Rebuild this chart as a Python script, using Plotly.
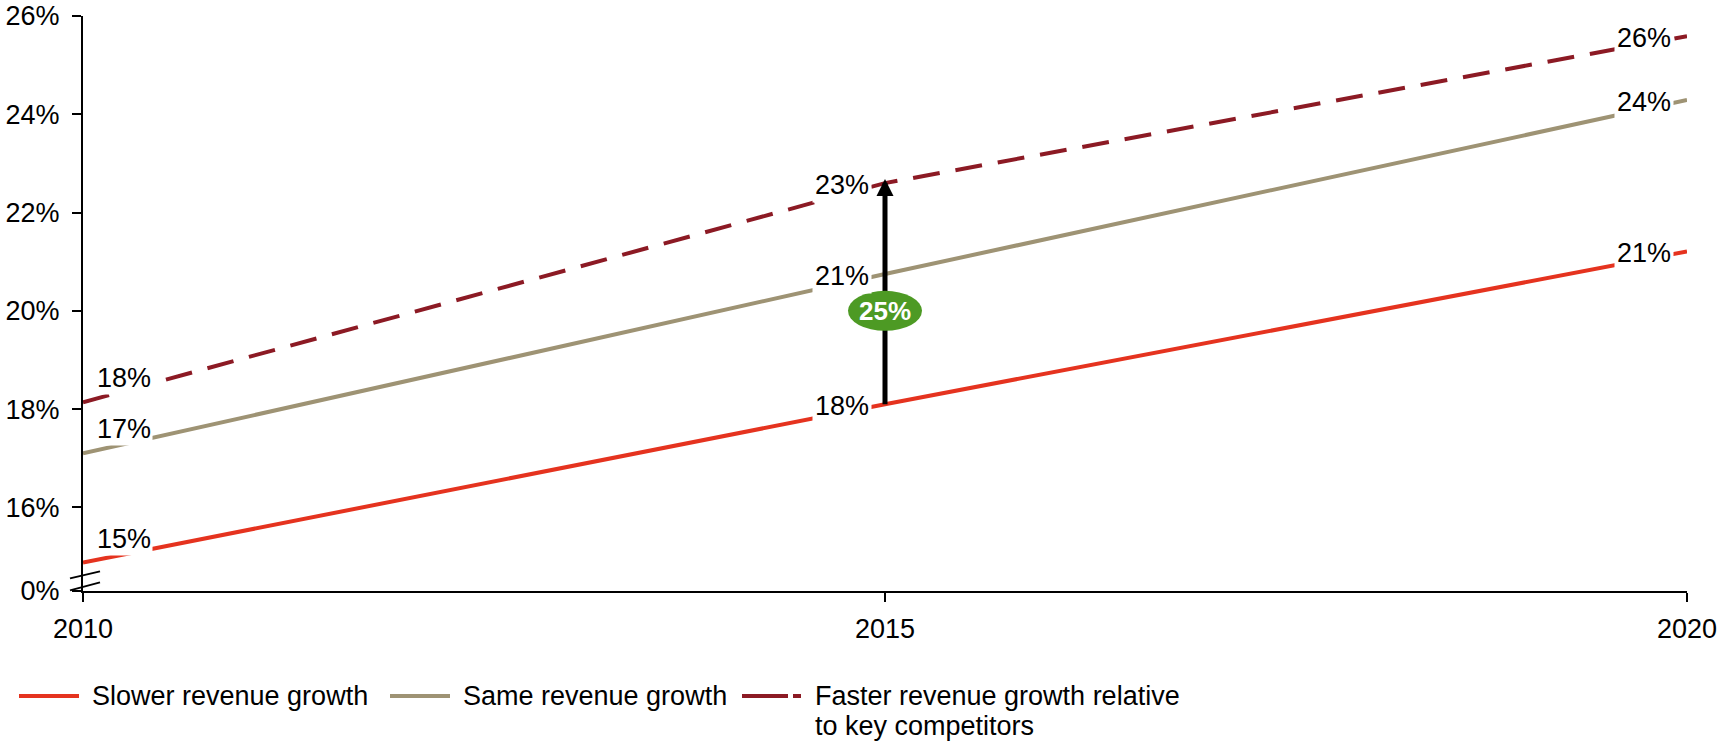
import plotly.graph_objects as go

# --- data -------------------------------------------------------------
years = [2010, 2015, 2020]
slower = [14.88, 18.10, 21.21]
same = [17.10, 20.75, 24.29]
faster = [18.14, 22.60, 25.59]

series_names = [
    "Slower revenue growth",
    "Same revenue growth",
    "Faster revenue growth relative",
]
legend_second_line = "to key competitors"

y_tick_values = [16, 18, 20, 22, 24, 26]
axis_floor = 14.3          # broken axis: the bottom of the scale reads 0%
year_ticks = [2010, 2015, 2020]

# --- styling ----------------------------------------------------------
FONT = "Liberation Sans, Arial, Helvetica, sans-serif"
TEXT_SIZE = 27
RED = "#E5331F"
TAN = "#9E9374"
DARK_RED = "#8C1A24"
GREEN = "#4D9A24"
DASH = "27px,16px"

W, H = 1733, 742
PLOT_L, PLOT_R, PLOT_T, PLOT_B = 83, 46, 16, 151
PLOT_W = W - PLOT_L - PLOT_R
PLOT_H = H - PLOT_T - PLOT_B


def fx(px):
    return (px - PLOT_L) / PLOT_W


def fy(py):
    return (PLOT_T + PLOT_H - py) / PLOT_H


fig = go.Figure()

styles = [
    (slower, RED, "solid"),
    (same, TAN, "solid"),
    (faster, DARK_RED, DASH),
]
for (vals, color, dash), name in zip(styles, series_names):
    fig.add_trace(go.Scatter(
        x=years, y=vals, mode="lines", name=name, showlegend=False,
        line=dict(color=color, width=4, dash=dash),
        hoverinfo="skip",
    ))

annotations = []
shapes = []

# value labels
for vals in (slower, same, faster):
    for i, (yr, v) in enumerate(zip(years, vals)):
        if i == 0:
            annotations.append(dict(
                x=yr, y=v, xref="x", yref="y", text=f"{round(v)}%",
                showarrow=False, xanchor="left", yanchor="middle",
                xshift=12, yshift=24, bgcolor="white", borderpad=1,
                font=dict(family=FONT, size=TEXT_SIZE, color="black"),
            ))
        else:
            annotations.append(dict(
                x=yr, y=v, xref="x", yref="y", text=f"{round(v)}%",
                showarrow=False, xanchor="right", yanchor="middle",
                xshift=-13, yshift=-2, bgcolor="white", borderpad=2,
                font=dict(family=FONT, size=TEXT_SIZE, color="black"),
            ))

# gap arrow at 2015 between slower and faster growth
mid = years[1]
low, high = slower[1], faster[1]
gap = (high - low) / low * 100
shapes.append(dict(
    type="line", xref="x", yref="y", x0=mid, x1=mid, y0=low, y1=high,
    line=dict(color="black", width=5), layer="above",
))
shapes.append(dict(
    type="path", xref="x", yref="y", xsizemode="pixel", ysizemode="pixel",
    xanchor=mid, yanchor=high, path="M0,4 L-8.5,-13 L8.5,-13 Z",
    fillcolor="black", line=dict(width=0), layer="above",
))
shapes.append(dict(
    type="circle", xref="x", yref="y", xsizemode="pixel", ysizemode="pixel",
    xanchor=mid, yanchor=20, x0=-37, x1=37, y0=-20, y1=20,
    fillcolor=GREEN, line=dict(width=0), layer="above",
))
annotations.append(dict(
    x=mid, y=20, xref="x", yref="y", text=f"<b>{round(gap)}%</b>",
    showarrow=False, font=dict(family=FONT, size=26, color="white"),
))

# axis break marks on the value axis
for y0, y1 in ((12.6, 19.6), (0.6, 8.6)):
    shapes.append(dict(
        type="line", xref="paper", yref="paper", xsizemode="pixel",
        ysizemode="pixel", xanchor=0, yanchor=0,
        x0=-13, x1=17, y0=y0, y1=y1,
        line=dict(color="black", width=2), layer="above",
    ))

# legend
legend_items = [
    (19, 79, RED, "solid", 90),
    (390, 450, TAN, "solid", 461),
    (742, 801, DARK_RED, "46px,5px", 813),
]
row1, row2 = 696, 726
for (x0, x1, color, dash, tx), name in zip(legend_items, series_names):
    shapes.append(dict(
        type="line", xref="paper", yref="paper",
        x0=fx(x0), x1=fx(x1), y0=fy(row1), y1=fy(row1),
        line=dict(color=color, width=4, dash=dash),
    ))
    annotations.append(dict(
        x=fx(tx), y=fy(row1), xref="paper", yref="paper", text=name,
        showarrow=False, xanchor="left", yanchor="middle",
        font=dict(family=FONT, size=TEXT_SIZE, color="black"),
    ))
annotations.append(dict(
    x=fx(legend_items[2][4]), y=fy(row2), xref="paper", yref="paper",
    text=legend_second_line, showarrow=False, xanchor="left",
    yanchor="middle", font=dict(family=FONT, size=TEXT_SIZE, color="black"),
))

axis_common = dict(
    showline=True, linecolor="black", linewidth=2,
    ticks="outside", ticklen=9, tickwidth=2, tickcolor="black",
    showgrid=False, zeroline=False, automargin=False,
    tickfont=dict(family=FONT, size=TEXT_SIZE, color="black"),
)

fig.update_layout(
    width=W, height=H, autosize=False,
    margin=dict(l=PLOT_L, r=PLOT_R, t=PLOT_T, b=PLOT_B, pad=0,
                autoexpand=False),
    paper_bgcolor="white", plot_bgcolor="white",
    showlegend=False,
    xaxis=dict(
        range=[year_ticks[0], year_ticks[-1]], tickvals=year_ticks,
        ticktext=[str(y) for y in year_ticks], ticklabelstandoff=4,
        **axis_common,
    ),
    yaxis=dict(
        range=[axis_floor, y_tick_values[-1]],
        tickvals=[axis_floor] + y_tick_values,
        ticktext=["0%"] + [f"{v}%" for v in y_tick_values],
        ticklabelstandoff=7,
        **axis_common,
    ),
    shapes=shapes,
    annotations=annotations,
    font=dict(family=FONT, size=TEXT_SIZE, color="black"),
)

fig.write_html("out.html")
